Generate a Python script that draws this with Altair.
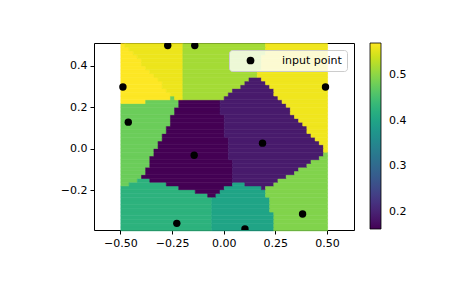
import altair as alt
import numpy as np
import pandas as pd

# input points
px = [-0.271, -0.140, -0.488, 0.493, -0.462, -0.143, 0.188, -0.227, 0.103, 0.382]
py = [0.497, 0.497, 0.297, 0.297, 0.128, -0.031, 0.027, -0.359, -0.386, -0.314]
pz = [0.560, 0.516, 0.571, 0.562, 0.479, 0.162, 0.190, 0.425, 0.400, 0.494]

x_ticks = [-0.5, -0.25, 0.0, 0.25, 0.5]
y_ticks = [-0.2, 0.0, 0.2, 0.4]
cbar_ticks = [0.2, 0.3, 0.4, 0.5]

# nearest-neighbour grid built from the points (50 x 50 cells, as in the original)
n = 50
gx = np.linspace(min(px), max(px), n)
gy = np.linspace(min(py), max(py), n)
dx = gx[1] - gx[0]
dy = gy[1] - gy[0]
PX = np.array(px)
PY = np.array(py)
rows = []
for yc in gy:
    idx = [int(np.argmin((PX - xc) ** 2 + (PY - yc) ** 2)) for xc in gx]
    start = 0
    for i in range(1, n + 1):
        if i == n or idx[i] != idx[start]:
            rows.append(dict(x=gx[start] - dx / 2, x2=gx[i - 1] + dx / 2,
                             y=yc - dy / 2, y2=yc + dy / 2, z=pz[idx[start]]))
            start = i
cells = pd.DataFrame(rows)
pts = pd.DataFrame(dict(x=px, y=py, s=["input point"] * len(px)))

xs = alt.Scale(domain=[-0.628, 0.631], nice=False, zero=False)
ys = alt.Scale(domain=[-0.391, 0.509], nice=False, zero=False)
cs = alt.Scale(scheme="viridis", domain=[0.162, 0.571])

axis_style = dict(grid=False, domain=True, domainColor="black", domainWidth=1,
                  tickColor="black", tickSize=4, tickWidth=1,
                  labelColor="black", labelFontSize=11, labelFont="DejaVu Sans",
                  labelPadding=3, title=None)
x_axis = alt.Axis(values=x_ticks, format=".2f", orient="bottom", **axis_style)
y_axis = alt.Axis(values=y_ticks, format=".1f", orient="left", **axis_style)
frame_style = dict(grid=False, domain=True, domainColor="black", domainWidth=1,
                   ticks=False, labels=False, title=None)
x_top = alt.Axis(orient="top", **frame_style)
y_right = alt.Axis(orient="right", **frame_style)

heat = alt.Chart(cells).mark_rect(strokeWidth=0.6).encode(
    x=alt.X("x:Q", scale=xs, axis=x_axis),
    x2="x2:Q",
    y=alt.Y("y:Q", scale=ys, axis=y_axis),
    y2="y2:Q",
    color=alt.Color("z:Q", scale=cs, legend=alt.Legend(
        orient="none", legendX=276, legendY=0, title=None, padding=0,
        gradientLength=186, gradientThickness=11, values=cbar_ticks, format=".1f",
        labelFontSize=11, labelOffset=8, gradientStrokeColor="black",
        gradientStrokeWidth=0.8, direction="vertical", labelColor="black")),
    stroke=alt.Stroke("z:Q", scale=cs, legend=None),
)

points = alt.Chart(pts).mark_point(filled=True, color="black", size=55, opacity=1, clip=True).encode(
    x=alt.X("x:Q", scale=xs, axis=x_top),
    y=alt.Y("y:Q", scale=ys, axis=y_right),
    shape=alt.Shape("s:N", scale=alt.Scale(range=["circle"]), legend=alt.Legend(
        orient="none", legendX=135, legendY=7, title=None, padding=5,
        symbolOffset=11, labelOffset=26, symbolSize=60, symbolFillColor="black",
        symbolStrokeColor="black", symbolStrokeWidth=0,
        labelFontSize=11, labelColor="black",
        fillColor="rgba(255,255,255,0.8)", strokeColor="#cccccc", cornerRadius=3)),
)

chart = alt.layer(heat, points).resolve_scale(
    x="shared", y="shared"
).resolve_axis(x="independent", y="independent").resolve_legend(
    color="independent", shape="independent"
).properties(
    width=260, height=187,
    autosize=alt.AutoSizeParams(type="none"),
    padding={"left": 94, "top": 43, "right": 111, "bottom": 58},
).configure_view(stroke=None).configure_axis(
    grid=False
).configure_legend(labelFont="DejaVu Sans").configure(font="DejaVu Sans")

chart.save("out.html", embed_options={"renderer": "svg", "actions": False})
